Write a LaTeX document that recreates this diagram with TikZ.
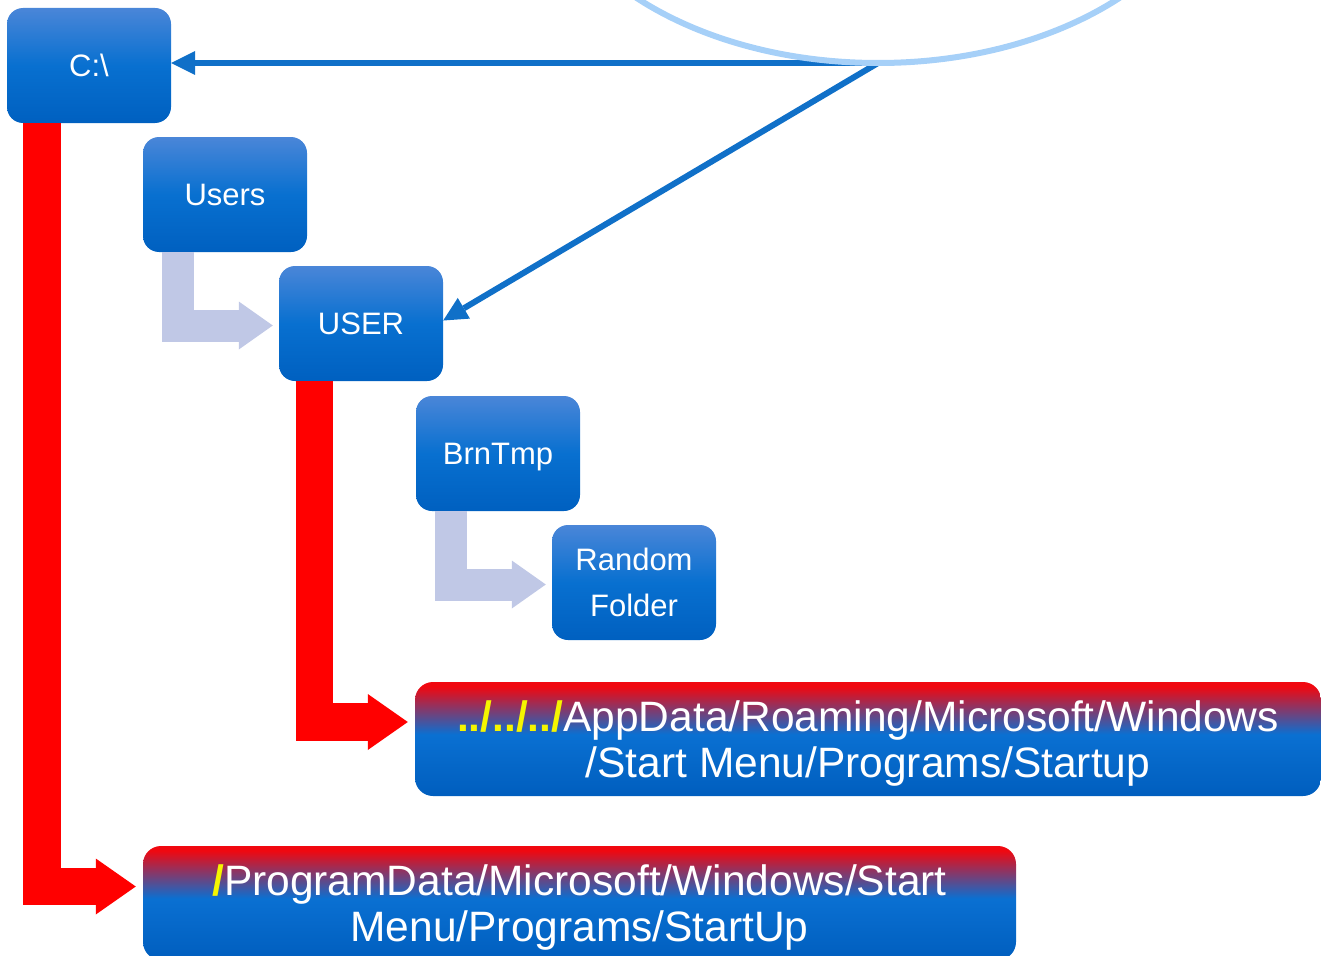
\documentclass[tikz,border=0pt]{standalone}
\usepackage{fontspec}
\setmainfont{Liberation Sans}
\usetikzlibrary{arrows.meta,calc}
\definecolor{ntop}{RGB}{74,134,216}
\definecolor{nmid}{RGB}{8,112,208}
\definecolor{nbot}{RGB}{0,96,192}
\definecolor{bbot}{RGB}{0,94,190}
\definecolor{bmid}{RGB}{10,112,210}
\definecolor{rtop}{RGB}{240,8,16}
\definecolor{ylw}{RGB}{245,245,0}
\definecolor{lightpurple}{RGB}{192,200,230}
\definecolor{bigred}{RGB}{255,0,0}
\definecolor{arrowblue}{RGB}{16,112,200}
\definecolor{ellblue}{RGB}{166,208,248}
\pgfdeclareverticalshading{redblue}{100bp}{color(0bp)=(bbot); color(25bp)=(bbot); color(52bp)=(bmid); color(73bp)=(rtop); color(100bp)=(rtop)}
\newcommand{\nodepth}[1]{\raisebox{0pt}[\height][0pt]{#1}}
\tikzset{
  folder/.style={shade, top color=ntop, bottom color=nbot, middle color=nmid,
    rounded corners=16pt, minimum width=164pt, minimum height=115pt, inner sep=0pt,
    text=white, align=center, font=\fontsize{31}{46}\selectfont},
  pathbox/.style={shade, shading=redblue, rounded corners=18pt, minimum height=114pt,
    inner sep=0pt, text=white, align=center, font=\fontsize{42.5}{46}\selectfont},
  lightarrow/.style={draw=lightpurple, line width=32pt,
    -{Triangle[length=34pt,width=48pt,line width=0pt]}, shorten >=6pt},
  redarrow/.style={draw=bigred, line width=37.5pt,
    -{Triangle[length=40pt,width=56pt,line width=0pt]}, shorten >=7pt},
  bluearrow/.style={draw=arrowblue, line width=6pt,
    -{Triangle[length=24pt,width=24pt,line width=0pt]}},
  ringline/.style={draw=ellblue, line width=6pt}
}
\begin{document}
\begin{tikzpicture}[x=1pt,y=-1pt]
\useasboundingbox (0,0) rectangle (1321,955);
% folder nodes
\node[folder] (c) at (89,65.5) {C:\textbackslash};
\node[folder] (users) at (225,194.5) {Users};
\node[folder] (user) at (361,323.5) {USER};
\node[folder] (brntmp) at (498,453.5) {\nodepth{BrnTmp}};
\node[folder] (random) at (634,582.5) {Random\\Folder};
% path boxes
\node[pathbox, minimum width=906pt] (appdata) at (868,739)
  {{\color{ylw}\textbf{../../../}}AppData/Roaming/Microsoft/Windows\\\nodepth{/Start Menu/Programs/Startup}};
\node[pathbox, minimum width=873pt] (progdata) at (579.5,903)
  {{\color{ylw}\textbf{/}}ProgramData/Microsoft/Windows/Start\\\nodepth{Menu/Programs/StartUp}};
% bent block arrows
\draw[lightarrow] ([xshift=35pt]users.south west) |- ([yshift=-2pt]user.west);
\draw[lightarrow] ([xshift=35pt]brntmp.south west) |- ([yshift=-2pt]random.west);
\draw[redarrow] ([xshift=35.5pt]user.south west) |- ([yshift=17pt]appdata.west);
\draw[redarrow] ([xshift=35pt]c.south west) |- ([yshift=16.5pt]progdata.west);
% blue arrows from ellipse
\coordinate (ell) at (878,63);
\draw[bluearrow] (ell) -- (ell -| c.east);
\draw[bluearrow] (ell) -- ([yshift=3pt]user.east);
\draw[ringline] (878,-157) ellipse [x radius=340pt, y radius=220pt];
\end{tikzpicture}
\end{document}
